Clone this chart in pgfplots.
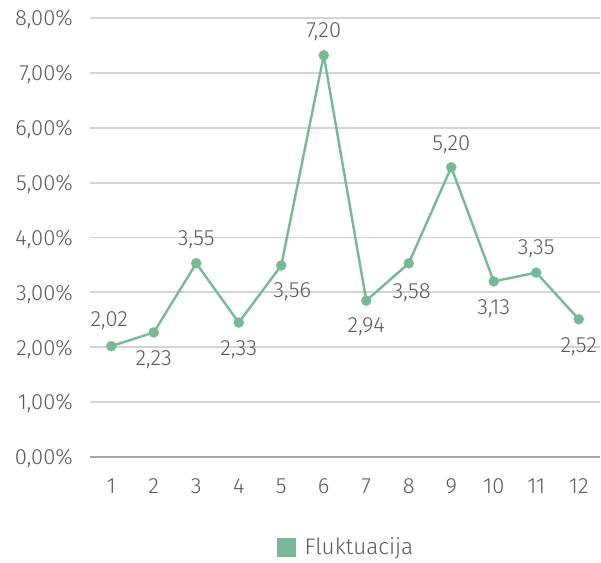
\documentclass[border=0pt]{standalone}
\usepackage{pgfplots}
\pgfplotsset{compat=1.18}
\usepackage{fontspec}
\setmainfont{Fira Sans}[UprightFont={* Light}]
\definecolor{lgreen}{HTML}{77B996}
\definecolor{txt}{HTML}{595959}
\definecolor{gridc}{HTML}{D4D4D4}
\definecolor{axc}{HTML}{A6A6A6}
\pgfplotstableread{
x y label dx dy
1 2.02 {2,02} -2 25
2 2.27 {2,23} 0 -27
3 3.53 {3,55} 0 24
4 2.45 {2,33} 0 -27
5 3.49 {3,56} 11 -26
6 7.32 {7,20} 0 24
7 2.85 {2,94} 0 -26
8 3.53 {3,58} 3 -29
9 5.28 {5,20} 0 23
10 3.20 {3,13} 0 -27
11 3.36 {3,35} 0 24
12 2.51 {2,52} 0 -27
}\datatable
\begin{document}
\begin{tikzpicture}
\begin{axis}[
  scale only axis,
  width=510pt, height=439pt,
  xmin=0.5, xmax=12.5, ymin=0, ymax=8,
  axis line style={draw=none},
  ymajorgrids, grid style={gridc, line width=1.8pt},
  major tick length=0pt,
  xtick={1,...,12},
  xticklabels={1,2,3,4,5,6,7,8,9,10,11,12},
  ytick={0,1,...,8},
  yticklabels={{0,00\%},{1,00\%},{2,00\%},{3,00\%},{4,00\%},{5,00\%},{6,00\%},{7,00\%},{8,00\%}},
  tick label style={font=\fontsize{22}{26}\selectfont, text=txt},
  xticklabel style={anchor=base, inner sep=0pt, yshift=-36pt},
  yticklabel style={anchor=base east, inner sep=0pt, xshift=-17pt, yshift=-7.8pt},
  legend style={at={(axis description cs:0.5,-0.205)}, anchor=center, draw=none, fill=none,
    font=\fontsize{22.5}{26}\selectfont, text=txt, inner sep=0pt,
    nodes={inner sep=0pt}},
  legend image code/.code={\path[draw=none,fill=none] (0pt,0pt) rectangle (28pt,0pt);\fill[lgreen, draw=none] (0pt,-9.5pt) rectangle (19pt,9.5pt);},
  clip=false,
]
\draw[axc, line width=1.8pt] (axis cs:0.5,0) -- (axis cs:12.5,0);
\addplot[lgreen, line width=2.4pt, mark=*, mark size=5pt,
  mark options={fill=lgreen, draw=lgreen, line width=0.4pt},
  point meta=explicit symbolic,
  visualization depends on={\thisrow{dx} \as \dx},
  visualization depends on={\thisrow{dy} \as \dy},
  nodes near coords,
  every node near coord/.style={anchor=center, xshift=\dx*1pt, yshift=\dy*1pt,
    font=\fontsize{22}{26}\selectfont, text=txt, inner sep=0pt},
] table[x=x, y=y, meta=label] {\datatable};
\addlegendentry{Fluktuacija}
\end{axis}
\pgfresetboundingbox
\path (-90pt,-105pt) rectangle (511pt,457pt);
\end{tikzpicture}
\end{document}
